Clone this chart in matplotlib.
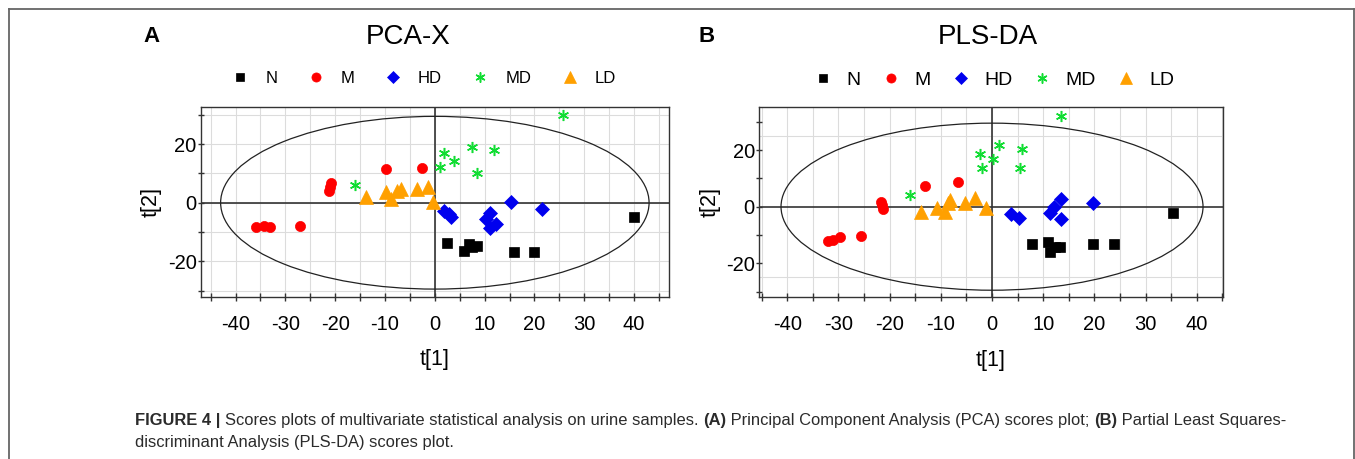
import matplotlib
matplotlib.use("Agg")
import matplotlib.pyplot as plt
from matplotlib.patches import Ellipse
from matplotlib.lines import Line2D
from matplotlib.ticker import MultipleLocator

plt.rcParams['font.family'] = ['Liberation Sans', 'DejaVu Sans']
plt.rcParams['axes.unicode_minus'] = False

# ---------------- data ----------------
groups = ["N", "M", "HD", "MD", "LD"]

# Panel A: PCA-X scores
pca_N_x = [2.4, 5.9, 6.8, 7.4, 8.5, 15.9, 20.0, 40.0]
pca_N_y = [-13.7, -16.6, -14.2, -15.2, -14.7, -16.9, -16.9, -5.0]
pca_M_x = [-36.0, -34.3, -33.1, -27.0, -21.3, -21.0, -20.8, -9.9, -2.6]
pca_M_y = [-8.2, -7.8, -8.2, -7.8, 4.1, 5.5, 6.9, 11.4, 11.7]
pca_HD_x = [1.9, 2.8, 3.2, 10.3, 11.0, 11.0, 12.2, 15.2, 21.5]
pca_HD_y = [-2.9, -4.0, -4.9, -5.5, -3.4, -8.8, -7.4, 0.2, -2.3]
pca_MD_x = [25.7, 1.9, 7.4, 11.9, 3.8, 1.0, 8.4, -16.0]
pca_MD_y = [29.8, 17.1, 18.9, 18.1, 14.4, 12.3, 10.1, 6.1]
pca_LD_x = [-13.8, -9.8, -8.8, -7.6, -6.8, -3.6, -1.4, -0.3]
pca_LD_y = [2.1, 3.7, 1.3, 4.1, 4.8, 4.6, 5.3, 0.1]

# Panel B: PLS-DA scores
pls_N_x = [7.9, 10.9, 11.4, 12.3, 13.3, 19.8, 23.8, 35.4]
pls_N_y = [-13.3, -12.4, -15.9, -14.1, -14.1, -13.3, -13.3, -2.1]
pls_M_x = [-32.1, -31.1, -29.7, -25.5, -21.7, -21.5, -21.2, -13.1, -6.6]
pls_M_y = [-12.0, -11.8, -10.6, -10.4, 1.8, 0.6, -0.7, 7.4, 8.8]
pls_HD_x = [3.8, 5.3, 11.3, 12.1, 13.5, 13.5, 19.8]
pls_HD_y = [-2.6, -3.9, -2.4, 0.0, 2.6, -4.5, 1.4]
pls_MD_x = [13.4, 1.4, -2.4, 5.9, 0.2, -1.9, 5.5, -16.1]
pls_MD_y = [32.1, 21.8, 18.6, 20.2, 16.7, 13.5, 13.5, 4.1]
pls_LD_x = [-13.8, -10.7, -9.1, -8.5, -8.3, -5.3, -3.3, -1.2]
pls_LD_y = [-1.8, -0.6, -1.8, 1.4, 2.4, 1.4, 2.9, -0.6]

# Hotelling T2 ellipse semi-axes
pca_ellipse = (43.0, 29.5)
pls_ellipse = (41.2, 29.5)

caption_line1 = [("FIGURE 4 | ", "bold"),
                 ("Scores plots of multivariate statistical analysis on urine samples. ", "normal"),
                 ("(A)", "bold"),
                 (" Principal Component Analysis (PCA) scores plot; ", "normal"),
                 ("(B)", "bold"),
                 (" Partial Least Squares-", "normal")]
caption_line2 = [("discriminant Analysis (PLS-DA) scores plot.", "normal")]

# ---------------- styles ----------------
styles = {
    "N":  dict(marker="s", color="#000000", ms=6.8),
    "M":  dict(marker="o", color="#ff0000", ms=7.3),
    "HD": dict(marker="D", color="#0000ee", ms=7.0),
    "MD": dict(marker=(6, 2, 0), color="#11dd33", ms=8.0),
    "LD": dict(marker="^", color="#ffa000", ms=9.5),
}

W, H = 1355, 459
fig = plt.figure(figsize=(W / 100, H / 100), dpi=100)


def px_rect(left, top, right, bottom):
    return [left / W, 1 - bottom / H, (right - left) / W, (bottom - top) / H]


def make_panel(rect, data, ell, xlim, ylim, hgrid_every, extra_hlines,
               title, letter, title_xy, letter_xy, leg_center, leg_fs, leg_pad, leg_col):
    ax = fig.add_axes(rect)
    ax.set_xlim(*xlim)
    ax.set_ylim(*ylim)
    ax.xaxis.set_major_locator(MultipleLocator(10))
    ax.xaxis.set_minor_locator(MultipleLocator(5))
    ax.yaxis.set_major_locator(MultipleLocator(20))
    ax.yaxis.set_minor_locator(MultipleLocator(10))
    ax.tick_params(axis='x', which='both', direction='inout', length=6, width=1,
                   labelsize=14.5, pad=10, color='#333333')
    ax.tick_params(axis='y', which='both', direction='inout', length=5, width=1,
                   labelsize=14.5, pad=0.5, color='#333333')
    for sp in ax.spines.values():
        sp.set_color('#333333')
        sp.set_linewidth(1.0)
    # grid
    ax.grid(True, axis='x', which='both', color='#dcdcdc', lw=0.8, zorder=0)
    if hgrid_every:
        ax.grid(True, axis='y', which='both', color='#dcdcdc', lw=0.8, zorder=0)
    for hy in extra_hlines:
        ax.axhline(hy, color='#dcdcdc', lw=0.8, zorder=0)
    ax.set_axisbelow(True)
    ax.axhline(0, color='#333333', lw=1.2, zorder=1)
    ax.axvline(0, color='#333333', lw=1.2, zorder=1)
    ax.add_patch(Ellipse((0, 0), 2 * ell[0], 2 * ell[1], fill=False,
                         edgecolor='#222222', lw=0.9, zorder=2))
    handles = []
    for g in groups:
        xs, ys = data[g]
        st = styles[g]
        h, = ax.plot(xs, ys, linestyle='none', marker=st["marker"], color=st["color"],
                     markersize=st["ms"], markeredgewidth=1.1 if g == "MD" else 0.5,
                     markeredgecolor=st["color"], label=g, zorder=3)
        handles.append(h)
    ax.set_xlabel("t[1]", fontsize=15.5, labelpad=11)
    ax.set_ylabel("t[2]", fontsize=15.5, labelpad=4)
    fig.text(title_xy[0] / W, 1 - title_xy[1] / H, title, fontsize=20,
             ha='center', va='center')
    fig.text(letter_xy[0] / W, 1 - letter_xy[1] / H, letter, fontsize=16,
             fontweight='bold', ha='center', va='center')
    ax.legend(handles=handles, loc='center',
              bbox_to_anchor=(leg_center[0] / W, 1 - leg_center[1] / H),
              bbox_transform=fig.transFigure, ncol=5, frameon=False,
              fontsize=leg_fs, handlelength=1.0, handletextpad=leg_pad,
              columnspacing=leg_col, borderpad=0, borderaxespad=0, markerscale=0.9)
    return ax


data_a = {"N": (pca_N_x, pca_N_y), "M": (pca_M_x, pca_M_y), "HD": (pca_HD_x, pca_HD_y),
          "MD": (pca_MD_x, pca_MD_y), "LD": (pca_LD_x, pca_LD_y)}
data_b = {"N": (pls_N_x, pls_N_y), "M": (pls_M_x, pls_M_y), "HD": (pls_HD_x, pls_HD_y),
          "MD": (pls_MD_x, pls_MD_y), "LD": (pls_LD_x, pls_LD_y)}

make_panel(px_rect(200.7, 106.7, 669, 296.7), data_a, pca_ellipse,
           (-47, 47), (-32.1, 32.8), True, [],
           "PCA-X", "A", (408, 37), (151, 37), (424, 78), 12, 1.0, 1.8)
make_panel(px_rect(759, 107.3, 1223, 297.3), data_b, pls_ellipse,
           (-45.5, 45.1), (-32.0, 35.1), False, [25, -25],
           "PLS-DA", "B", (988, 37), (707, 37), (994, 80), 14, 0.7, 1.05)

# outer frame (open at bottom)
frame_col = '#666666'
fig.add_artist(Line2D([9 / W, 9 / W], [0, 1 - 8.5 / H], transform=fig.transFigure,
                      color=frame_col, lw=1.3))
fig.add_artist(Line2D([9 / W, 1354 / W], [1 - 8.5 / H, 1 - 8.5 / H], transform=fig.transFigure,
                      color=frame_col, lw=1.3))
fig.add_artist(Line2D([1354 / W, 1354 / W], [0, 1 - 8.5 / H], transform=fig.transFigure,
                      color=frame_col, lw=1.3))

# caption
renderer = fig.canvas.get_renderer()


def draw_segments(segs, x_px, y_px, size, color):
    x = x_px
    for s, w in segs:
        t = fig.text(x / W, 1 - y_px / H, s, fontsize=size, fontweight=w,
                     color=color, ha='left', va='center')
        bb = t.get_window_extent(renderer)
        x += bb.width


draw_segments(caption_line1, 135, 421, 11.9, '#2b2b2b')
draw_segments(caption_line2, 135, 443, 11.9, '#2b2b2b')

fig.savefig("out.png", dpi=100)
